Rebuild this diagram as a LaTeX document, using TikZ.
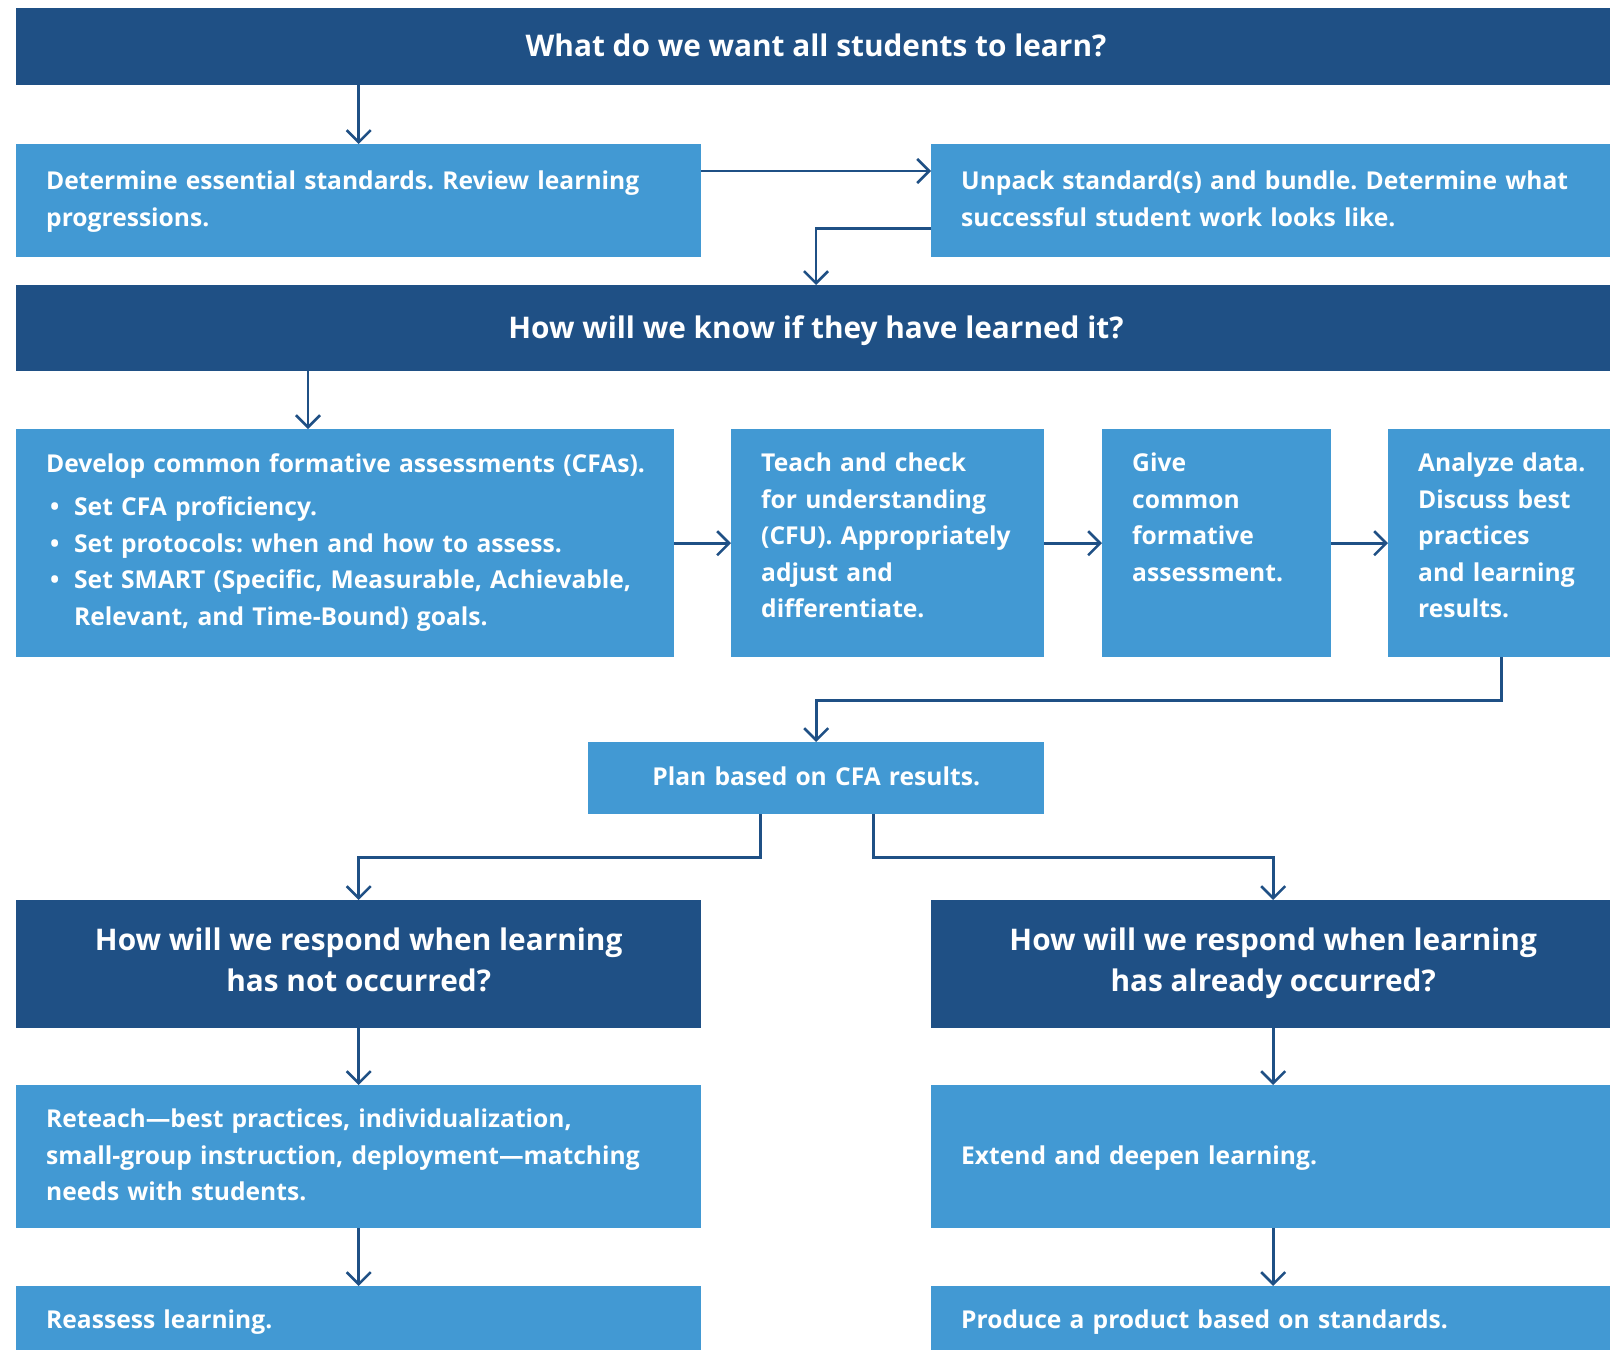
\documentclass[tikz,border=0pt]{standalone}
\usepackage{fontspec}
\setmainfont{Open Sans}
\usetikzlibrary{positioning, arrows.meta}
\definecolor{darkblue}{RGB}{31,80,133}
\definecolor{lightblue}{RGB}{66,153,211}
\frenchspacing
\newcommand{\bannerfont}{\fontsize{29.8}{41}\selectfont\bfseries}
\newcommand{\boxfont}{\fontsize{24.6}{36.5}\selectfont\bfseries}
\newcommand{\toptext}[1]{\parbox[t][180pt][t]{\dimexpr\linewidth+40pt\relax}{\boxfont\raggedright #1}}
\tikzset{
x=1pt, y=-1pt, % one unit is one pixel, y runs downwards
banner/.style={fill=darkblue, text=white, font=\bannerfont, align=center, inner sep=0pt,
  execute at begin node={\rule{0pt}{30pt}}, execute at end node={\rule[-10pt]{0pt}{10pt}}}, % dark question bars
stepbox/.style={fill=lightblue, text=white, font=\boxfont, align=left, inner xsep=30pt, inner ysep=0pt, anchor=north west,
  execute at begin node=\strut, execute at end node=\strut}, % light step boxes
rowbox/.style={fill=lightblue, text=white, font=\boxfont, align=left, inner xsep=30pt, inner ysep=24pt, anchor=north west}, % boxes of the assessment row
arr/.style={draw=darkblue, line width=2.6pt, -{Straight Barb[length=12pt,width=24pt]}}, % connectors
}

\begin{document}
\begin{tikzpicture}
  \useasboundingbox[fill=white] (0,0) rectangle (1610,1350);

  \node[banner, minimum width=1600pt, minimum height=77pt, anchor=north] (learn) at (816,8) {What do we want all students to learn?};
  \node[stepbox, text width=625pt, minimum height=113pt] (essential) at (16,144) {Determine essential standards. Review learning\\progressions.};
  \node[stepbox, text width=624pt, minimum height=113pt] (unpack) at (931,144) {Unpack standard(s) and bundle. Determine what\\successful student work looks like.};

  \node[banner, minimum width=1600pt, minimum height=86pt, anchor=north] (know) at (816,285) {How will we know if they have learned it?};
  \node[rowbox, text width=598pt] (develop) at (16,429) {\toptext{Develop common formative assessments (CFAs).\\[7pt]
    \hspace*{4pt}\makebox[24pt][l]{\textbullet}Set CFA proficiency.\\
    \hspace*{4pt}\makebox[24pt][l]{\textbullet}Set protocols: when and how to assess.\\
    \hspace*{4pt}\makebox[24pt][l]{\textbullet}Set SMART (Specific, Measurable, Achievable,\\
    \hspace*{28pt}Relevant, and Time-Bound) goals.}};
  \node[rowbox, text width=253pt] (teach) at (731,429) {\toptext{Teach and check\\for understanding\\(CFU). Appropriately\\adjust and\\differentiate.}};
  \node[rowbox, text width=169pt] (give) at (1102,429) {\toptext{Give\\common\\formative\\assessment.}};
  \node[rowbox, text width=167pt] (analyze) at (1388,429) {\toptext{Analyze data.\\Discuss best\\practices\\and learning\\results.}};
  \coordinate (developin) at ([xshift=292pt]develop.north west);

  \node[stepbox, text width=396pt, minimum height=72pt, align=center] (plan) at (588,742) {Plan based on CFA results.};

  \node[banner, minimum width=685pt, minimum height=128pt, anchor=north west] (notyet) at (16,900) {How will we respond when learning\\has not occurred?};
  \node[banner, minimum width=684pt, minimum height=128pt, anchor=north west] (already) at (931,900) {How will we respond when learning\\has already occurred?};
  \node[stepbox, text width=625pt, minimum height=143pt] (reteach) at (16,1085) {Reteach—best practices, individualization,\\small-group instruction, deployment—matching\\needs with students.};
  \node[stepbox, text width=624pt, minimum height=143pt] (extend) at (931,1085) {Extend and deepen learning.};
  \node[stepbox, text width=625pt, minimum height=70pt] (reassess) at (16,1286) {Reassess learning.};
  \node[stepbox, text width=624pt, minimum height=70pt] (produce) at (931,1286) {Produce a product based on standards.};

  % connectors
  \draw[arr] (learn.south -| essential.north) -- (essential.north);
  \draw[arr] ([yshift=-27pt]essential.north east) -- ([yshift=-27pt]unpack.north west);
  \draw[arr] ([yshift=29pt]unpack.south west) -| (know.north);
  \draw[arr] (know.south -| developin) -- (developin);
  \draw[arr] (develop) -- (teach);
  \draw[arr] (teach) -- (give);
  \draw[arr] (give) -- (analyze);
  \draw[arr] (analyze.south) -- ++(0,43) -| (plan.north);
  \draw[arr] ([xshift=-56pt]plan.south) -- ++(0,43) -| (notyet.north);
  \draw[arr] ([xshift=57pt]plan.south) -- ++(0,43) -| (already.north);
  \draw[arr] (notyet) -- (reteach);
  \draw[arr] (reteach) -- (reassess);
  \draw[arr] (already) -- (extend);
  \draw[arr] (extend) -- (produce);
\end{tikzpicture}
\end{document}
